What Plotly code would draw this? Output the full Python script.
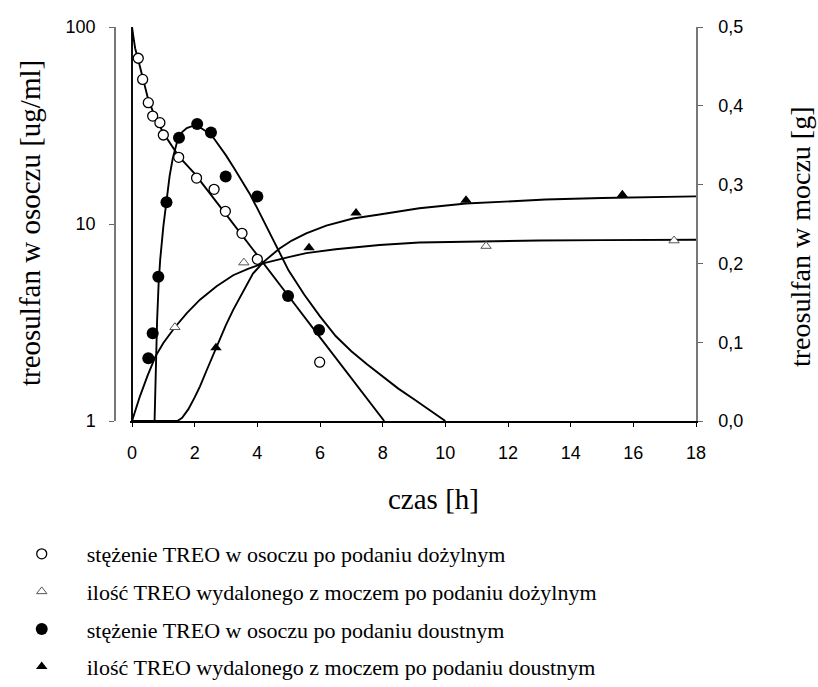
import plotly.graph_objects as go

W, H = 818, 687

# ---- data ----
iv_plasma_t = [0.2, 0.34, 0.52, 0.66, 0.89, 1.0, 1.49, 2.06, 2.62, 2.98, 3.51, 4.0, 5.99]
iv_plasma_c = [69.4, 54.2, 41.3, 35.3, 32.7, 28.3, 21.8, 17.1, 15.0, 11.6, 8.97, 6.62, 1.99]

iv_urine_t = [1.37, 3.57, 11.3, 17.3]
iv_urine_g = [0.119, 0.201, 0.222, 0.229]

po_plasma_t = [0.52, 0.66, 0.84, 1.1, 1.5, 2.08, 2.52, 2.99, 4.0, 4.98, 5.97]
po_plasma_c = [2.08, 2.79, 5.4, 12.9, 27.4, 32.2, 29.1, 17.4, 13.8, 4.31, 2.90]

po_urine_t = [2.68, 5.65, 7.15, 10.66, 15.65]
po_urine_g = [0.093, 0.220, 0.264, 0.280, 0.287]

# fitted curves
iv_plasma_fit_t = [0, 0, 0.05, 0.1, 0.2, 0.35, 0.5, 0.7, 1.0, 1.5, 2.0, 3.0, 4.0, 5.0, 6.0, 7.0, 8.05]
iv_plasma_fit_c = [1, 100, 88, 78, 68, 54, 44, 36, 29, 22, 18, 11.2, 6.9, 4.3, 2.66, 1.65, 1.0]

po_plasma_fit_t = [0.72, 0.76, 0.8, 0.85, 0.9, 1.0, 1.1, 1.2, 1.3, 1.45, 1.6, 1.75, 1.9, 2.05,
                   2.2, 2.4, 2.6, 2.8, 3.0, 3.25, 3.5, 3.75, 4.0, 4.5, 5.0, 5.5, 6.0, 6.5,
                   7.0, 7.5, 8.0, 8.5, 9.0, 9.5, 10.0]
po_plasma_fit_c = [1.0, 2.0, 3.2, 5.0, 6.6, 9.7, 13.0, 17.5, 21.5, 26.5, 29.3, 30.7, 31.3, 31.3,
                   30.7, 29.3, 27.4, 24.8, 22.3, 19.3, 16.7, 14.3, 12.0, 8.3, 5.8, 4.37, 3.4, 2.7,
                   2.26, 1.94, 1.68, 1.46, 1.29, 1.135, 1.0]

iv_urine_fit_t = [0, 0.1, 0.25, 0.5, 0.75, 1.0, 1.37, 1.75, 2.17, 2.7, 3.23, 3.7, 4.18, 5.0,
                  5.56, 6.5, 7.9, 9.17, 11, 13, 15, 18]
iv_urine_fit_g = [0, 0.013, 0.031, 0.058, 0.082, 0.099, 0.119, 0.137, 0.154, 0.171, 0.185,
                  0.193, 0.200, 0.208, 0.213, 0.218, 0.2233, 0.2265, 0.228, 0.229, 0.2295, 0.230]

po_urine_fit_t = [0, 1.45, 1.6, 1.8, 2.0, 2.17, 2.4, 2.68, 3.0, 3.23, 3.5, 3.86, 4.2, 4.71, 5.1,
                  5.56, 6.2, 7.05, 7.9, 9.17, 10.66, 12, 13.2, 15, 16.5, 18]
po_urine_fit_g = [0, 0, 0.004, 0.015, 0.030, 0.044, 0.066, 0.093, 0.122, 0.141, 0.161, 0.187,
                  0.202, 0.219, 0.229, 0.238, 0.248, 0.257, 0.262, 0.270, 0.276, 0.279, 0.281,
                  0.283, 0.284, 0.285]

x_ticks = [0, 2, 4, 6, 8, 10, 12, 14, 16, 18]
y_left_ticks = [1, 10, 100]
y_left_text = ["1", "10", "100"]
y_right_ticks = [0.0, 0.1, 0.2, 0.3, 0.4, 0.5]
y_right_text = ["0,0", "0,1", "0,2", "0,3", "0,4", "0,5"]

names = [
    "stężenie TREO w osoczu po podaniu dożylnym",
    "ilość TREO wydalonego z moczem po podaniu dożylnym",
    "stężenie TREO w osoczu po podaniu doustnym",
    "ilość TREO wydalonego z moczem po podaniu doustnym",
]

SERIF = "Liberation Serif, Times New Roman, serif"
SANS = "Liberation Sans, Arial, sans-serif"
LINE = dict(color="black", width=1.9)

fig = go.Figure()

# curves
fig.add_trace(go.Scatter(x=iv_plasma_fit_t, y=iv_plasma_fit_c, mode="lines", line=LINE,
                         showlegend=False, hoverinfo="skip", yaxis="y"))
fig.add_trace(go.Scatter(x=po_plasma_fit_t, y=po_plasma_fit_c, mode="lines", line=LINE,
                         showlegend=False, hoverinfo="skip", yaxis="y"))
fig.add_trace(go.Scatter(x=iv_urine_fit_t, y=iv_urine_fit_g, mode="lines", line=LINE,
                         showlegend=False, hoverinfo="skip", yaxis="y2"))
fig.add_trace(go.Scatter(x=po_urine_fit_t, y=po_urine_fit_g, mode="lines", line=LINE,
                         showlegend=False, hoverinfo="skip", yaxis="y2"))

# markers
fig.add_trace(go.Scatter(x=iv_plasma_t, y=iv_plasma_c, mode="markers", name=names[0],
                         legendgroup="a", yaxis="y",
                         marker=dict(symbol="circle", size=10, color="white",
                                     line=dict(color="black", width=1.3))))
fig.add_trace(go.Scatter(x=iv_urine_t, y=iv_urine_g, mode="markers", name=names[1],
                         legendgroup="b", yaxis="y2",
                         marker=dict(symbol="triangle-up", size=9, color="white",
                                     line=dict(color="#555555", width=1))))
fig.add_trace(go.Scatter(x=po_plasma_t, y=po_plasma_c, mode="markers", name=names[2],
                         legendgroup="c", yaxis="y",
                         marker=dict(symbol="circle", size=12, color="black",
                                     line=dict(color="black", width=0))))
fig.add_trace(go.Scatter(x=po_urine_t, y=po_urine_g, mode="markers", name=names[3],
                         legendgroup="d", yaxis="y2",
                         marker=dict(symbol="triangle-up", size=10, color="black",
                                     line=dict(color="black", width=0))))

# x range starts slightly below 0 so the t=0 vertical segment is not half-clipped
X_MIN, X_MAX = -0.05, 18
px_per_h = (696 - 132) / 18
x0, x1 = (132 + X_MIN * px_per_h) / W, 696 / W
yb, yt = 1 - 421 / H, 1 - 27 / H

fig.update_layout(
    width=W, height=H,
    margin=dict(l=0, r=0, t=0, b=0, autoexpand=False),
    paper_bgcolor="white", plot_bgcolor="white",
    font=dict(family=SANS, size=18, color="black"),
    xaxis=dict(domain=[x0, x1], range=[X_MIN, X_MAX], tickvals=x_ticks, ticks="outside",
               ticklen=4, tickwidth=1.2, tickcolor="black", showline=True,
               linecolor="black", linewidth=1.5, showgrid=False, zeroline=False,
               anchor="y", ticklabelstandoff=11, automargin=False,
               tickfont=dict(family=SANS, size=18)),
    yaxis=dict(type="log", range=[0, 2], domain=[yb, yt], anchor="free", position=115 / W,
               tickvals=y_left_ticks, ticktext=y_left_text, ticks="outside", ticklen=5,
               tickwidth=1.2, tickcolor="#666666", showline=True, linecolor="#777777",
               linewidth=1.5, showgrid=False, zeroline=False, ticklabelstandoff=10,
               automargin=False, tickfont=dict(family=SANS, size=18)),
    yaxis2=dict(range=[0, 0.5], overlaying="y", side="right", anchor="x",
                tickvals=y_right_ticks, ticktext=y_right_text, ticks="outside", ticklen=5,
                tickwidth=1.2, tickcolor="#666666", showline=True, linecolor="#777777",
                linewidth=1.5, showgrid=False, zeroline=False, ticklabelstandoff=12,
                automargin=False, tickfont=dict(family=SANS, size=18)),
    legend=dict(x=-0.004, y=1 - 533 / H, xanchor="left", yanchor="top",
                font=dict(family=SERIF, size=22, color="black"),
                bgcolor="rgba(0,0,0,0)", borderwidth=0, tracegroupgap=6,
                itemwidth=80),
    showlegend=True,
    annotations=[
        dict(text="treosulfan w osoczu [ug/ml]", x=30 / W, y=1 - 223 / H, xref="paper",
             yref="paper", textangle=-90, showarrow=False, xanchor="center",
             yanchor="middle", font=dict(family=SERIF, size=29)),
        dict(text="treosulfan w moczu [g]", x=800 / W, y=1 - 237 / H, xref="paper",
             yref="paper", textangle=-90, showarrow=False, xanchor="center",
             yanchor="middle", font=dict(family=SERIF, size=28)),
        dict(text="czas [h]", x=434 / W, y=1 - 499 / H, xref="paper", yref="paper",
             showarrow=False, xanchor="center", yanchor="middle",
             font=dict(family=SERIF, size=29)),
    ],
)

fig.write_html("out.html")
